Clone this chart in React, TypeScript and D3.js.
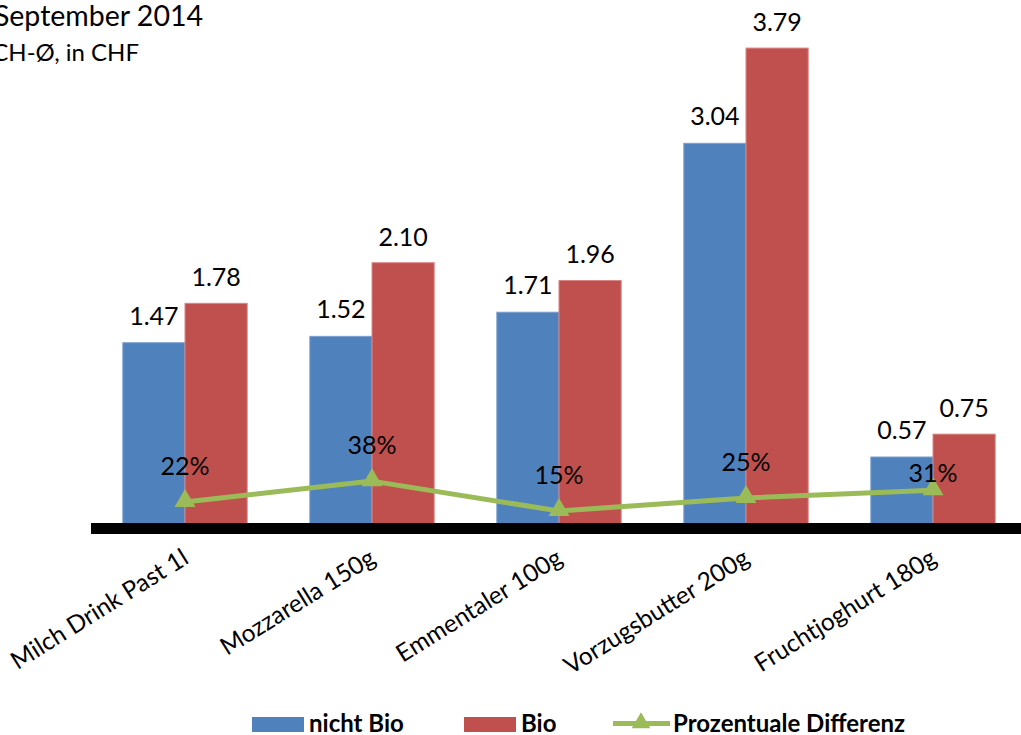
import React from "react";
import * as d3 from "d3";

const categories = ["Milch Drink Past 1l", "Mozzarella 150g", "Emmentaler 100g", "Vorzugsbutter 200g", "Fruchtjoghurt 180g"];
const nichtBio = [1.47, 1.52, 1.71, 3.04, 0.57];
const bio = [1.78, 2.10, 1.96, 3.79, 0.75];
const diffPct = [22, 38, 15, 25, 31];
const seriesNames = ["nicht Bio", "Bio", "Prozentuale Differenz"];
const titleLines = ["September 2014", "CH-Ø, in CHF"];

const W = 1021;
const H = 735;
const FONT = "Lato, 'Open Sans', sans-serif";
const BLUE = "#4F81BD";
const RED = "#C0504D";
const GREEN = "#9BBB59";

export default function App() {
  const x = d3.scaleBand<string>().domain(categories).range([91.5, 1026.5]).paddingInner(0.335).paddingOuter(0.1675);
  const y = d3.scaleLinear().domain([0, 4]).range([529.4, 529.4 - 4 * 127]);
  const y2 = d3.scaleLinear().domain([0, 100]).range([530.5, 530.5 - 130]);
  const bw = x.bandwidth() / 2;
  const cx = (c: string) => (x(c) as number) + x.bandwidth() / 2;

  const line = d3
    .line<number>()
    .x((_, i) => cx(categories[i]))
    .y((d) => y2(d));

  const tri = d3.symbol().type(d3.symbolTriangle).size(190)();
  const triLegend = d3.symbol().type(d3.symbolTriangle).size(150)();

  // percent label position: above the marker, unless it would collide with the bar value label
  const pctLabelY = (i: number) => {
    const def = y2(diffPct[i]) - 27;
    const barLabel = y(nichtBio[i]) - 19;
    return def - barLabel < 28 ? y2(diffPct[i]) - 8 : def;
  };

  return (
    <svg width={W} height={H} style={{ position: "absolute", left: 0, top: 0, background: "#fff" }} fontFamily={FONT}>
      <text x={203} y={26} fontSize={28.5} textAnchor="end" fill="#000">{titleLines[0]}</text>
      <text x={139} y={61} fontSize={24} textAnchor="end" fill="#000">{titleLines[1]}</text>

      {categories.map((c, i) => {
        const x0 = x(c) as number;
        return (
          <g key={c}>
            <rect x={x0} y={y(nichtBio[i])} width={bw} height={y(0) - y(nichtBio[i])} fill={BLUE} stroke="#7A9FD0" strokeWidth={1} />
            <rect x={x0 + bw} y={y(bio[i])} width={bw} height={y(0) - y(bio[i])} fill={RED} stroke="#D88583" strokeWidth={1} />
            <text x={x0 + bw / 2} y={y(nichtBio[i]) - 18} fontSize={25} textAnchor="middle" fill="#000">{nichtBio[i].toFixed(2)}</text>
            <text x={x0 + bw * 1.5} y={y(bio[i]) - 17} fontSize={25} textAnchor="middle" fill="#000">{bio[i].toFixed(2)}</text>
          </g>
        );
      })}

      <rect x={91} y={523} width={W - 91} height={11} fill="#000" />

      <path d={line(diffPct) || ""} fill="none" stroke={GREEN} strokeWidth={5} strokeLinejoin="round" />
      {diffPct.map((p, i) => (
        <path key={"m" + i} d={tri || ""} transform={`translate(${cx(categories[i])},${y2(p) - 1})`} fill={GREEN} />
      ))}
      {diffPct.map((p, i) => (
        <text key={"t" + i} x={cx(categories[i])} y={pctLabelY(i)} fontSize={25} textAnchor="middle" fill="#000">{p}%</text>
      ))}

      {categories.map((c) => (
        <text
          key={c}
          transform={`translate(${cx(c) - 5},${546}) rotate(-32)`}
          textAnchor="end"
          dominantBaseline="hanging"
          fontSize={24.5}
          fill="#000"
        >
          {c}
        </text>
      ))}

      <g fontSize={24} fontWeight="bold">
        <rect x={252} y={717} width={52} height={15} fill={BLUE} />
        <text x={309} y={732} fill="#000">{seriesNames[0]}</text>
        <rect x={464} y={717} width={52} height={15} fill={RED} />
        <text x={521} y={732} fill="#000">{seriesNames[1]}</text>
        <line x1={613} x2={670} y1={723.5} y2={723.5} stroke={GREEN} strokeWidth={5} />
        <path d={triLegend || ""} transform={`translate(641,723)`} fill={GREEN} />
        <text x={673} y={732} fill="#000">{seriesNames[2]}</text>
      </g>
    </svg>
  );
}
